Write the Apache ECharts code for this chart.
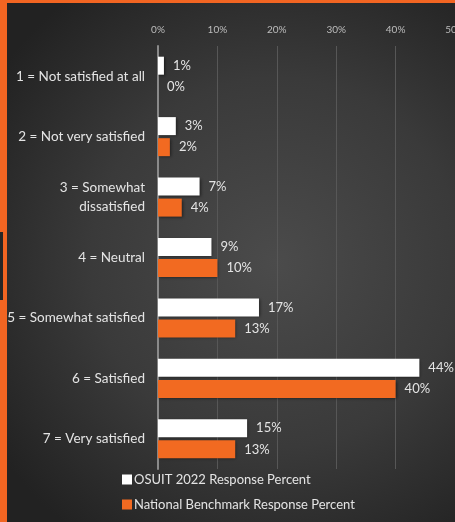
<!DOCTYPE html>
<html>
<head>
<meta charset="utf-8">
<script src="https://cdn.jsdelivr.net/npm/echarts@6/dist/echarts.min.js"></script>
<style>
  html, body { margin: 0; padding: 0; background: #f26522; overflow: hidden; }
  #chart { width: 455px; height: 522px; }
</style>
</head>
<body>
<div id="chart"></div>
<script>
// Satisfaction ratings, top to bottom
const categories = [
  '1 = Not satisfied at all',
  '2 = Not very satisfied',
  '3 = Somewhat\ndissatisfied',
  '4 = Neutral',
  '5 = Somewhat satisfied',
  '6 = Satisfied',
  '7 = Very satisfied'
];
const osuit2022 = [1, 3, 7, 9, 17, 44, 15];
const nationalBenchmark = [0, 2, 4, 10, 13, 40, 13];
const tickLabels = ['0%', '10%', '20%', '30%', '40%', '50%'];

const seriesNames = ['OSUIT 2022 Response Percent', 'National Benchmark Response Percent'];
const FONT = 'Lato, "Open Sans", sans-serif';
const TEXT = '#e4e4e4';

const chart = echarts.init(document.getElementById('chart'), null, { renderer: 'canvas', width: 455, height: 522 });

const labelStyle = {
  show: true,
  position: 'right',
  distance: 9,
  color: TEXT,
  fontFamily: FONT,
  fontSize: 13,
  formatter: p => p.value + '%'
};

chart.setOption({
  animation: false,
  backgroundColor: 'transparent',
  graphic: [
    {
      type: 'rect',
      shape: { x: 7, y: 3, width: 448, height: 519 },
      style: {
        fill: {
          type: 'radial', x: 0.6, y: 0.5, r: 0.75,
          colorStops: [
            { offset: 0, color: '#4b4b4b' },
            { offset: 0.55, color: '#3a3a3a' },
            { offset: 1, color: '#222222' }
          ]
        }
      },
      z: -10,
      silent: true
    },
    {
      type: 'rect',
      shape: { x: 0, y: 232, width: 3, height: 68 },
      style: { fill: '#262626' },
      z: -9,
      silent: true
    }
  ],
  grid: {
    left: 158, right: 0, top: 46, bottom: 53,
    containLabel: false,
    outerBoundsMode: 'none'
  },
  xAxis: {
    type: 'value',
    position: 'top',
    min: 0,
    max: 50,
    interval: 10,
    axisLine: { show: false },
    axisTick: { show: false },
    splitLine: { lineStyle: { color: '#575757', width: 1 } },
    axisLabel: {
      color: '#bdbdbd',
      fontFamily: FONT,
      fontSize: 10,
      margin: 11,
      formatter: v => tickLabels[v / 10]
    }
  },
  yAxis: {
    type: 'category',
    inverse: true,
    data: categories,
    axisLine: { show: true, lineStyle: { color: '#8a8a8a', width: 2 } },
    axisTick: { show: false },
    axisLabel: {
      color: TEXT,
      fontFamily: FONT,
      fontSize: 13.5,
      margin: 13,
      lineHeight: 19,
      align: 'right'
    }
  },
  legend: {
    orient: 'vertical',
    left: 117,
    top: 468,
    itemWidth: 10,
    itemHeight: 10,
    itemGap: 12,
    icon: 'rect',
    textStyle: { color: TEXT, fontFamily: FONT, fontSize: 13, padding: [0, 0, 0, -3] },
    data: seriesNames
  },
  series: [
    {
      name: seriesNames[0],
      type: 'bar',
      data: osuit2022,
      barWidth: 18,
      barGap: '17%',
      itemStyle: {
        color: '#ffffff',
        shadowColor: 'rgba(0,0,0,0.5)',
        shadowBlur: 3,
        shadowOffsetX: 1,
        shadowOffsetY: 1
      },
      label: labelStyle
    },
    {
      name: seriesNames[1],
      type: 'bar',
      data: nationalBenchmark,
      barWidth: 18,
      itemStyle: {
        color: '#f26a21',
        shadowColor: 'rgba(0,0,0,0.5)',
        shadowBlur: 3,
        shadowOffsetX: 1,
        shadowOffsetY: 1
      },
      label: labelStyle
    }
  ]
});
</script>
</body>
</html>
